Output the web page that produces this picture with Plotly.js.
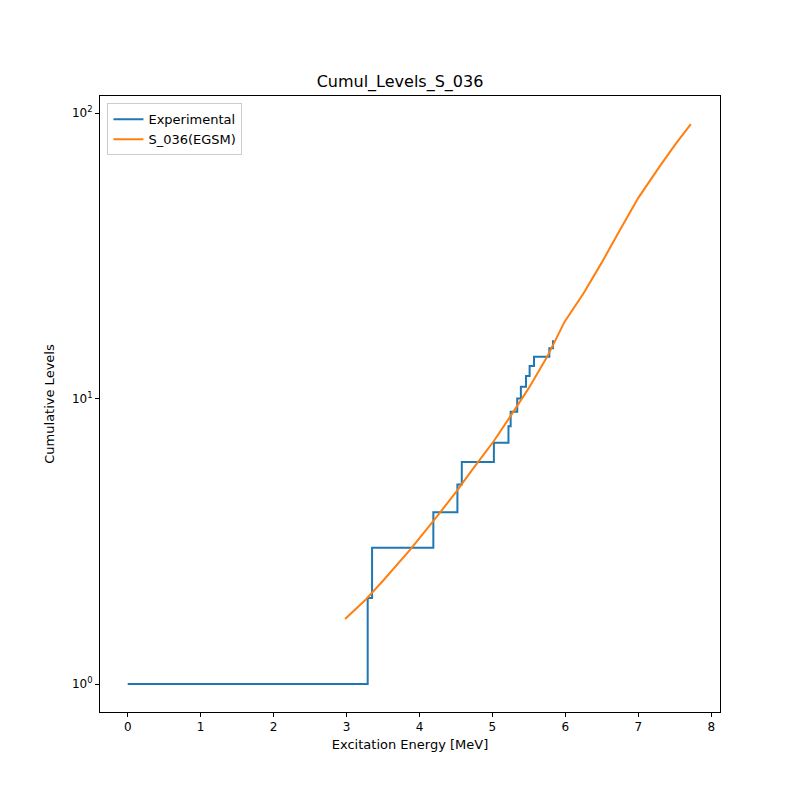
<!DOCTYPE html>
<html>
<head>
<script src="https://cdn.plot.ly/plotly-3.0.1.min.js"></script>
<style>body{margin:0;background:#fff}</style>
</head>
<body>
<div id="chart" style="width:800px;height:800px"></div>
<script>
// experimental cumulative levels (step)
const expEnergy = [0, 3.29, 3.35, 4.19, 4.52, 4.58, 5.02, 5.22, 5.25, 5.34, 5.39, 5.46, 5.51, 5.57, 5.78, 5.83];
const expCount = [1, 2, 3, 4, 5, 6, 7, 8, 9, 10, 11, 12, 13, 14, 15, 16];
// EGSM model curve
const egsmEnergy = [2.98, 3.25, 3.5, 3.87, 4.2, 4.5, 4.75, 5.02, 5.25, 5.5, 5.75, 5.99, 6.25, 6.5, 6.75, 7.0, 7.3, 7.52, 7.72];
const egsmCount = [1.69, 1.96, 2.3, 2.95, 3.75, 4.7, 5.75, 7.1, 8.7, 10.9, 14.0, 18.6, 23.4, 30.0, 39.0, 50.5, 65.5, 78.5, 91.5];

const traces = [
    {
        x: expEnergy, y: expCount, name: "Experimental",
        type: "scatter", mode: "lines", line: { color: "#1f77b4", width: 2, shape: "hv" }
    },
    {
        x: egsmEnergy, y: egsmCount, name: "S_036(EGSM)",
        type: "scatter", mode: "lines", line: { color: "#ff7f0e", width: 2 }
    }
];

const axisStyle = {
    showgrid: false, zeroline: false, showline: true, mirror: true,
    linecolor: "#000", linewidth: 1, ticks: "outside", ticklen: 4, tickcolor: "#000",
    tickfont: { size: 12 }
};

const layout = {
    width: 800, height: 800,
    font: { family: "DejaVu Sans", size: 13, color: "#000" },
    title: { text: "Cumul_Levels_S_036", x: 0.5, y: 0.905, font: { size: 16 } },
    margin: { l: 100, r: 80, t: 96, b: 88 },
    paper_bgcolor: "#fff", plot_bgcolor: "#fff",
    xaxis: Object.assign({}, axisStyle, {
        range: [-0.38, 8.12], dtick: 1,
        title: { text: "Excitation Energy [MeV]", standoff: 6, font: { size: 13 } }
    }),
    yaxis: Object.assign({}, axisStyle, {
        type: "log", range: [-0.098, 2.06],
        tickvals: [1, 10, 100], ticktext: ["10<sup>0</sup>", "10<sup>1</sup>", "10<sup>2</sup>"],
        title: { text: "Cumulative Levels", standoff: 14, font: { size: 13 } }
    }),
    legend: {
        x: 0.012, y: 0.988, xanchor: "left", yanchor: "top",
        bgcolor: "#fff", bordercolor: "#ccc", borderwidth: 1, font: { size: 13 }
    }
};

Plotly.newPlot("chart", traces, layout, { displayModeBar: false });
</script>
</body>
</html>
